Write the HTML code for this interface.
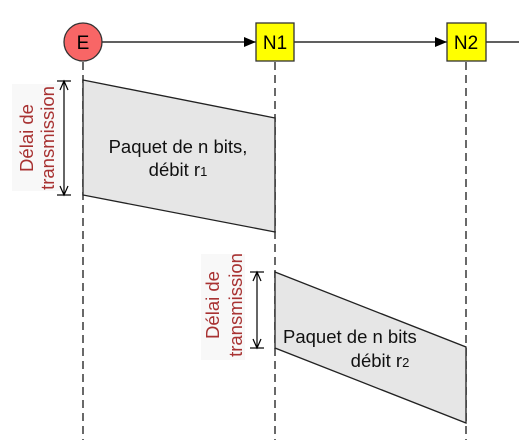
<!DOCTYPE html>
<html><head><meta charset="utf-8"><style>
html,body{margin:0;padding:0;background:#fff;}
svg{display:block;font-family:"Liberation Sans",Arial,sans-serif;}
</style></head><body>
<svg width="519" height="440" viewBox="0 0 519 440" xmlns="http://www.w3.org/2000/svg">
<defs>
<marker id="ah" markerWidth="12" markerHeight="10" refX="12" refY="5" orient="auto" markerUnits="userSpaceOnUse"><path d="M0,0 L12,5 L0,10 z" fill="#000"/></marker>
</defs>
<g stroke="#444" stroke-width="1.6" stroke-dasharray="8,5">
<line x1="83" y1="62" x2="83" y2="440"/>
<line x1="275" y1="62" x2="275" y2="440"/>
<line x1="466" y1="62" x2="466" y2="440"/>
</g>
<line x1="102" y1="42" x2="256" y2="42" stroke="#000" stroke-width="1.3" marker-end="url(#ah)"/>
<line x1="294" y1="42" x2="447" y2="42" stroke="#000" stroke-width="1.3" marker-end="url(#ah)"/>
<line x1="486" y1="42" x2="519" y2="42" stroke="#000" stroke-width="1.3"/>
<circle cx="83" cy="42" r="19" fill="#f86666" stroke="#333" stroke-width="1.3"/>
<text x="83" y="49" font-size="19" text-anchor="middle">E</text>
<rect x="256" y="23" width="38" height="38" fill="#ffff00" stroke="#333" stroke-width="1.3"/>
<text x="275" y="49" font-size="19" text-anchor="middle">N1</text>
<rect x="447" y="23" width="39" height="38" fill="#ffff00" stroke="#333" stroke-width="1.3"/>
<text x="466" y="49" font-size="19" text-anchor="middle">N2</text>

<polygon points="83,80 275,118 275,232 83,195" fill="#e6e6e6" stroke="#222" stroke-width="1.3"/>
<text x="178" y="153" font-size="18.5" text-anchor="middle" fill="#111">Paquet de n bits,</text>
<text x="178" y="176" font-size="18.5" text-anchor="middle" fill="#111">débit r<tspan font-size="13">1</tspan></text>
<rect x="12" y="84" width="48" height="107" fill="#f8f8f8"/>
<g stroke="#000" stroke-width="1.2" fill="none">
<line x1="57" y1="81" x2="71" y2="81"/>
<line x1="57" y1="195" x2="71" y2="195"/>
<line x1="64" y1="81" x2="64" y2="195"/>
<path d="M60,90 L64,81 L68,90"/>
<path d="M60,186 L64,195 L68,186"/>
</g>
<g fill="#a83232" font-size="18.5" text-anchor="middle">
<text transform="translate(33,138) rotate(-90)">Délai de</text>
<text transform="translate(54,138) rotate(-90)">transmission</text>
</g>

<polygon points="275,272 466,347 466,423 275,348" fill="#e6e6e6" stroke="#222" stroke-width="1.3"/>
<text x="283" y="343" font-size="18.5" fill="#111">Paquet de n bits</text>
<text x="380" y="367" font-size="18.5" text-anchor="middle" fill="#111">débit r<tspan font-size="13">2</tspan></text>
<rect x="201" y="254" width="44" height="106" fill="#f8f8f8"/>
<g stroke="#000" stroke-width="1.2" fill="none">
<line x1="250" y1="272" x2="264" y2="272"/>
<line x1="250" y1="348" x2="264" y2="348"/>
<line x1="257" y1="272" x2="257" y2="348"/>
<path d="M253,281 L257,272 L261,281"/>
<path d="M253,339 L257,348 L261,339"/>
</g>
<g fill="#a83232" font-size="18.5" text-anchor="middle">
<text transform="translate(219,305) rotate(-90)">Délai de</text>
<text transform="translate(242,305) rotate(-90)">transmission</text>
</g>
</svg>
</body></html>
